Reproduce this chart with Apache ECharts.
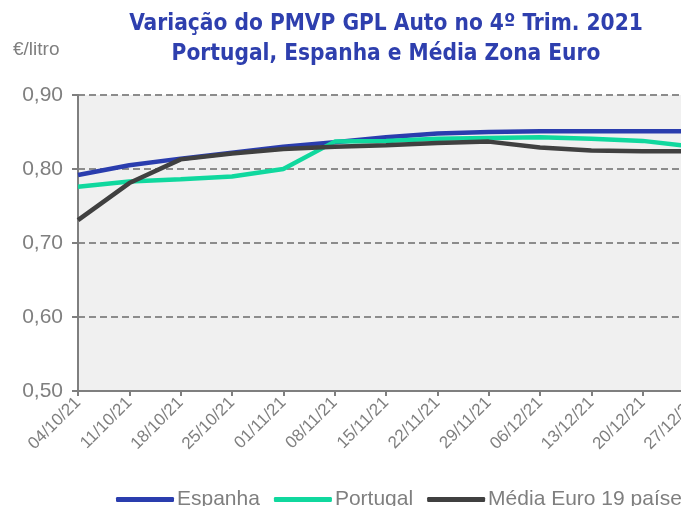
<!DOCTYPE html>
<html>
<head>
<meta charset="utf-8">
<title>PMVP GPL Auto</title>
<script src="https://cdn.jsdelivr.net/npm/echarts@6/dist/echarts.min.js"></script>
<style>
 body { margin:0; background:#fff; }
 #box { width:681px; height:506px; }
</style>
</head>
<body>
<div id="box"></div>
<script>
// semanas do 4º trimestre
var datas = ['04/10/21','11/10/21','18/10/21','25/10/21','01/11/21','08/11/21','15/11/21',
             '22/11/21','29/11/21','06/12/21','13/12/21','20/12/21','27/12/21'];
var espanha  = [0.792,0.805,0.814,0.822,0.830,0.836,0.843,0.848,0.850,0.851,0.851,0.851,0.851];
var portugal = [0.776,0.783,0.786,0.790,0.800,0.837,0.838,0.841,0.842,0.843,0.841,0.838,0.830];
var mediaEuro = [0.731,0.781,0.813,0.821,0.827,0.830,0.832,0.835,0.837,0.829,0.825,0.824,0.824];
var yTicks = [0.5,0.9,0.1]; // min, max, intervalo

var cinza = '#7f7f7f';
var narrow = "'Liberation Sans Narrow','Arial Narrow','DejaVu Sans Condensed',sans-serif";

var myChart = echarts.init(document.getElementById('box'));
myChart.setOption({
  animation: false,
  title: [
    {
      text: 'Variação do PMVP GPL Auto no 4º Trim. 2021\nPortugal, Espanha e Média Zona Euro',
      left: 381, top: 4, textAlign: 'center',
      textStyle: { color:'#2E3FAE', fontSize:22.5, fontWeight:'bold', fontFamily:narrow, lineHeight:30 }
    },
    {
      text: '€/litro', left: 8, top: 35,
      textStyle: { color:cinza, fontSize:19, fontWeight:'normal', fontFamily:'Liberation Sans' }
    }
  ],
  grid: { left:78, top:95, width:616, height:296, show:true, backgroundColor:'#F0F0F0', borderWidth:0,
          outerBoundsMode:'none', containLabel:false },
  legend: {
    left: 111, top: 484, width: 1000,
    itemWidth: 58, itemHeight: 5, itemGap: 14,
    icon: 'roundRect',
    textStyle: { color:cinza, fontSize:21, fontFamily:'Liberation Sans', padding:[0,0,0,-2] },
    data: ['Espanha','Portugal','Média Euro 19 países']
  },
  xAxis: {
    type: 'category',
    data: datas,
    boundaryGap: false,
    axisLine: { lineStyle: { color:cinza, width:2 } },
    axisTick: { show:true, length:5, interval:0, lineStyle:{ color:cinza, width:2 } },
    axisLabel: { rotate:45, interval:0, color:cinza, fontSize:17, fontFamily:'Liberation Sans', margin:9 }
  },
  yAxis: {
    type: 'value',
    min: yTicks[0], max: yTicks[1], interval: yTicks[2],
    axisLine: { show:true, lineStyle: { color:cinza, width:2 } },
    axisTick: { show:true, length:6, lineStyle:{ color:cinza, width:2 } },
    axisLabel: {
      color:cinza, fontSize:21, fontFamily:'Liberation Sans', margin:15,
      formatter: function (v) { return v.toFixed(2).replace('.', ','); }
    },
    splitLine: { lineStyle: { color:'#8c8c8c', width:2, type:[7,4] } }
  },
  series: [
    { name:'Espanha', type:'line', data:espanha, symbol:'none',
      lineStyle:{ color:'#2A3DAE', width:4.5 }, itemStyle:{ color:'#2A3DAE' } },
    { name:'Portugal', type:'line', data:portugal, symbol:'none',
      lineStyle:{ color:'#10D89E', width:4.5 }, itemStyle:{ color:'#10D89E' } },
    { name:'Média Euro 19 países', type:'line', data:mediaEuro, symbol:'none',
      lineStyle:{ color:'#404040', width:4.5 }, itemStyle:{ color:'#404040' } }
  ]
});
</script>
</body>
</html>
